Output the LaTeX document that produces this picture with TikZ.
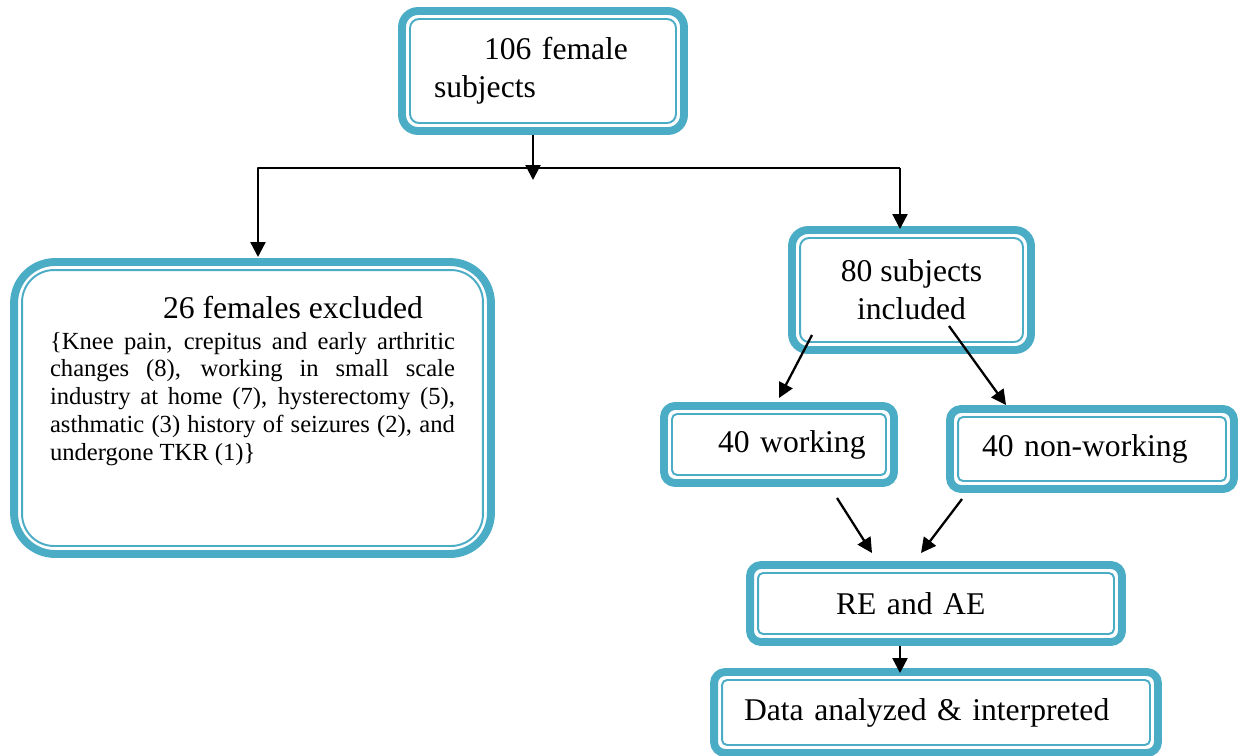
\documentclass[tikz,border=0pt]{standalone}
\usepackage{fontspec}
\setmainfont{Liberation Serif}
\usetikzlibrary{arrows.meta}
\definecolor{frame}{HTML}{4BACC6}
\tikzset{
  box/.style={draw=frame, line width=4.5pt, fill=white, inner sep=0pt, outer sep=0pt, align=left,
    font=\fontsize{18}{21.5}\selectfont},
  innerbox/.style={draw=frame, line width=1.1pt},
  arr/.style={-{Triangle[length=8.5pt,width=8.5pt]}, line width=1.3pt}
}
\begin{document}
\begin{tikzpicture}[x=0.02cm, y=-0.02cm, line join=round]
		\useasboundingbox (0,0) rectangle (1240,755);
		% boxes
		\node[box, rounded corners=0.32cm, minimum width=5.64cm, minimum height=2.4cm, text width=5.64cm] (top) at (543,71)
			{\hspace*{1.64cm}106 female\\\hspace*{0.64cm}subjects};
		\node[box, rounded corners=0.82cm, minimum width=9.54cm, minimum height=5.84cm] (excl) at (252.5,408)
			{\parbox[c][4.48cm][t]{8.1cm}{\hspace*{2.26cm}26 females excluded\par\vspace{1.7pt}
			\fontsize{14}{15.8}\selectfont\hyphenpenalty=10000
			\{Knee pain, crepitus and early arthritic\linebreak
			changes (8), working in small scale\linebreak
			industry at home (7), hysterectomy (5),\linebreak
			asthmatic (3) history of seizures (2), and\linebreak
			undergone TKR (1)\}}};
		\node[box, align=center, rounded corners=0.32cm, minimum width=4.78cm, minimum height=2.4cm] (incl) at (911.5,290)
			{80 subjects\\included};
		\node[box, rounded corners=0.22cm, minimum width=4.6cm, minimum height=1.54cm, text width=4.6cm] (work) at (779,444.5)
			{\hspace*{1.08cm}40 working};
		\node[box, rounded corners=0.22cm, minimum width=5.68cm, minimum height=1.6cm, text width=5.68cm] (nonw) at (1092,449)
			{\hspace*{0.64cm}40 non-working};
		\node[box, rounded corners=0.22cm, minimum width=7.44cm, minimum height=1.54cm, text width=7.44cm] (reae) at (936,603.5)
			{\hspace*{1.72cm}RE and AE};
		\node[box, rounded corners=0.22cm, minimum width=8.88cm, minimum height=1.62cm, text width=8.88cm] (data) at (936,712.5)
			{\hspace*{0.6cm}Data analyzed \& interpreted};
		% inner frames
		\foreach \bx/\rad in {top/0.18, excl/0.64, incl/0.18, work/0.1, nonw/0.1, reae/0.1, data/0.1}{
			\draw[innerbox, rounded corners=\rad cm] ([xshift=0.16cm, yshift=0.16cm]\bx.south west) rectangle ([xshift=-0.16cm, yshift=-0.16cm]\bx.north east);
		}
		% connectors
		\path 
			(533,180) coordinate (split)
			(258,168) coordinate (hl)
			(900,168) coordinate (hr)
			(258,257) coordinate (exclin)
			(900,229) coordinate (inclin)
			(812,335) coordinate (w1) (779,398) coordinate (w2)
			(949,326) coordinate (n1) (1006,405) coordinate (n2)
			(837,498) coordinate (r1) (872,553) coordinate (r2)
			(962,499) coordinate (r3) (921,553) coordinate (r4)
			(900,646) coordinate (d1) (900,673) coordinate (d2)
		;
		\draw[arr] (top.south -| split) ++(0,4) -- (split);
		\draw[arr] (hr) -- (hl) -- (exclin);
		\draw[arr] (hr) -- (inclin);
		\draw[arr] (w1) -- (w2);
		\draw[arr] (n1) -- (n2);
		\draw[arr] (r1) -- (r2);
		\draw[arr] (r3) -- (r4);
		\draw[arr] (d1) -- (d2);
\end{tikzpicture}
\end{document}
